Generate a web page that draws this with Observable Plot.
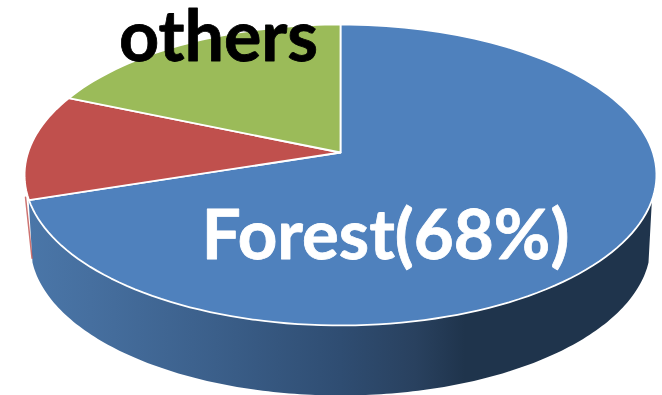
<!DOCTYPE html>
<html>
<head>
<meta charset="utf-8">
<script src="https://cdn.jsdelivr.net/npm/d3@7"></script>
<script src="https://cdn.jsdelivr.net/npm/@observablehq/plot@0.6"></script>
<style>
  html, body { margin: 0; padding: 0; background: #fff; }
  svg { display: block; }
</style>
</head>
<body>
<div id="chart"></div>
<script>
// Land cover shares, in percent, clockwise from twelve o'clock.
const sliceNames = ["Forest", "unlabelled", "others"];
const shares = [68, 12, 20];
const sliceLabels = ["Forest(68%)", "", "others"];

const sliceColors = ["#4f81bd", "#c0504d", "#9bbb59"];

// Tilted-disc projection: a circle seen in perspective, with its hub at (hubX, hubY).
const hubX = 340, hubY = 152;
const tilt = 0.1495, spreadX = 312.4, spreadY = 147.1;
const viewSkew = 8.5 * Math.PI / 180;

function project(percent) {
  const a = percent / 100 * 2 * Math.PI;
  const t = a + viewSkew * Math.sin(a / 2);
  const u = Math.sin(t), v = -Math.cos(t), w = 1 - tilt * v;
  return {x: hubX + spreadX * u / w, y: hubY + spreadY * v / w};
}

// Outline of each slice: hub, rim, back to hub.
let running = 0;
const slices = sliceNames.flatMap((name, i) => {
  const start = running, end = running + shares[i];
  running = end;
  const n = Math.ceil(shares[i] * 2);
  const rim = d3.range(n + 1).map(k => project(start + (end - start) * k / n));
  return [{x: hubX, y: hubY}, ...rim, {x: hubX, y: hubY}].map(p => ({...p, name}));
});

// Side wall of the disc, between the front rim and a lower, slightly narrower rim.
const rimTop = a => ({x: 340 + 316 * Math.sin(a), y: 174.5 + 150.5 * Math.cos(a)});
const rimLow = a => ({x: 340 + 310 * Math.sin(a), y: 245 + 150 * Math.cos(a)});
const sweep = d3.range(-80.8, 81.2, 1).map(d => d * Math.PI / 180);
const sweepLow = d3.range(83.5, -83.6, -1).map(d => d * Math.PI / 180);
const wall = [...sweep.map(rimTop), ...sweepLow.map(rimLow)];

// Sliver of the neighbouring slice's wall, just behind the Forest edge.
const forestEdge = project(shares[0]);
const sliver = [
  {x: forestEdge.x - 3.5, y: forestEdge.y - 3},
  {x: forestEdge.x + 3, y: forestEdge.y + 58}
];

const labelRows = [
  {label: sliceLabels[0], x: 385, y: 258, fill: "#ffffff", size: 69},
  {label: sliceLabels[2], x: 218, y: 60, fill: "#000000", size: 70}
];

// Horizontal shading of the wall.
const wallShade = () => {
  const defs = d3.create("svg:defs");
  const grad = defs.append("linearGradient").attr("id", "wallShade");
  [[0, "#4a76a8"], [0.1, "#466f9f"], [0.3, "#3b5f8a"], [0.5, "#2f4d72"], [0.62, "#29415f"], [0.7, "#1f344c"], [1, "#1f344c"]]
    .forEach(([o, c]) => grad.append("stop").attr("offset", o).attr("stop-color", c));
  return defs.node();
};

const labelMark = row => Plot.text([row], {
  x: "x", y: "y", text: "label", fill: "fill", stroke: "fill", strokeWidth: 0.8,
  fontFamily: "Lato", fontWeight: 700, fontSize: row.size,
  textAnchor: "middle", lineAnchor: "bottom"
});

const chart = Plot.plot({
  width: 662,
  height: 395,
  margin: 0,
  x: {domain: [0, 662], range: [0, 662], axis: null},
  y: {domain: [0, 395], range: [0, 395], axis: null},
  color: {domain: sliceNames, range: sliceColors},
  marks: [
    wallShade,
    Plot.line(wall, {x: "x", y: "y", fill: "url(#wallShade)", stroke: "none"}),
    Plot.line(sliver, {x: "x", y: "y", stroke: sliceColors[1], strokeWidth: 1.5, strokeOpacity: 0.8}),
    Plot.line(slices, {x: "x", y: "y", z: "name", fill: "name", stroke: "#ffffff", strokeWidth: 1.8}),
    ...labelRows.map(labelMark)
  ]
});
document.getElementById("chart").append(chart);
</script>
</body>
</html>
